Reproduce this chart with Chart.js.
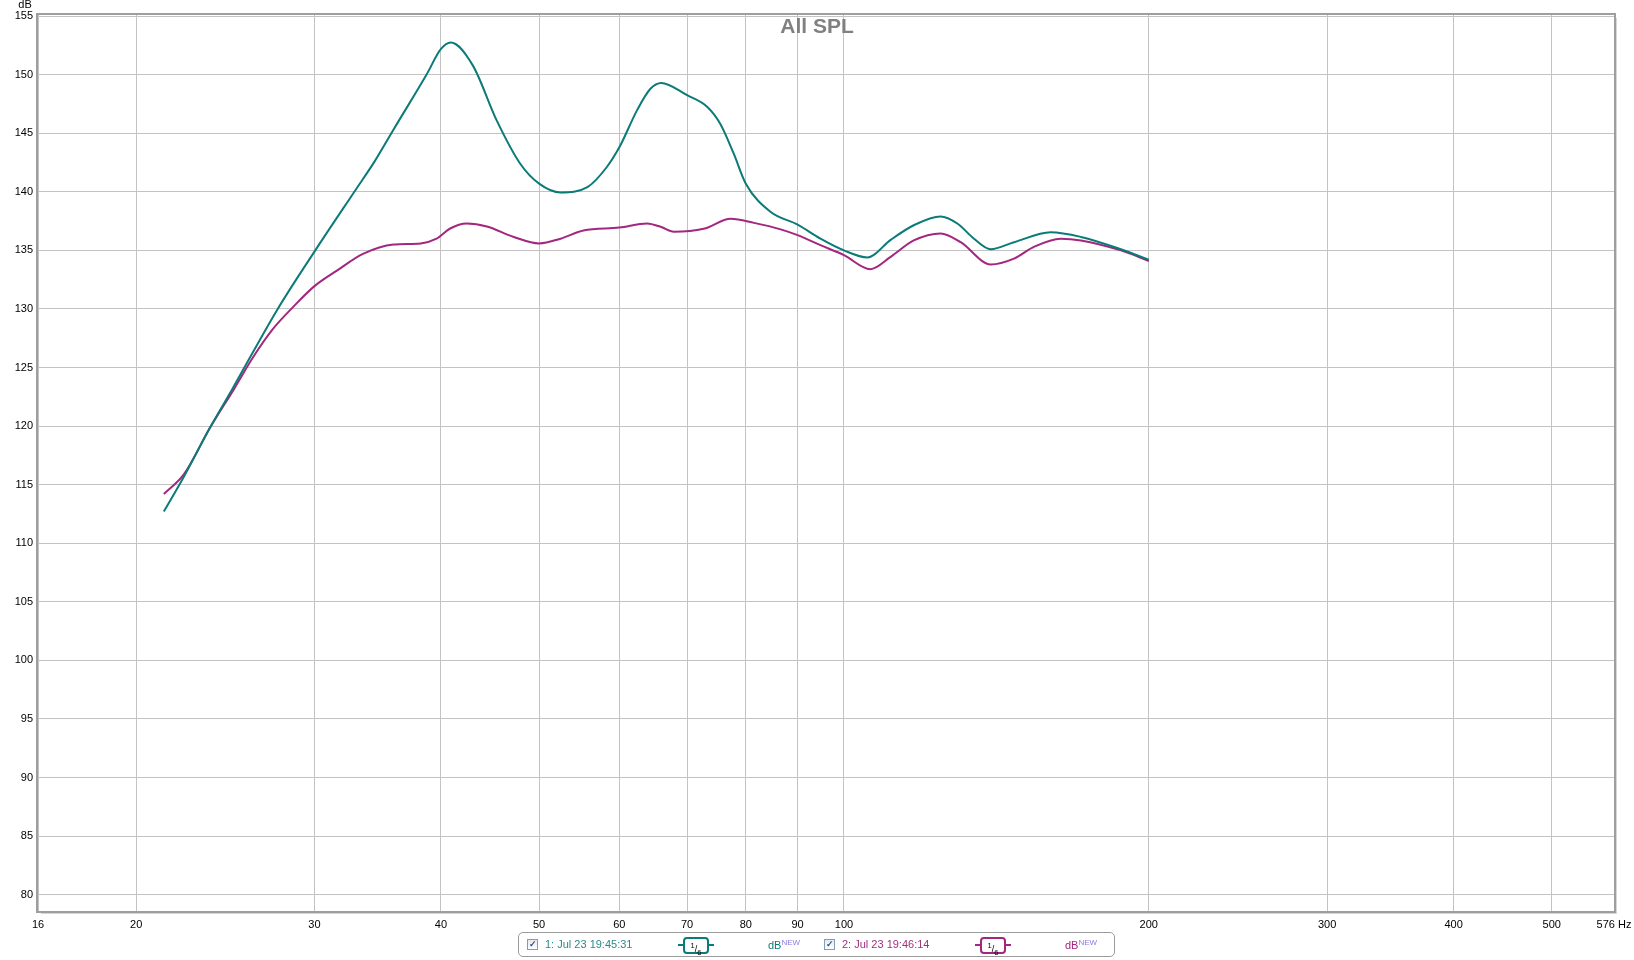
<!DOCTYPE html>
<html>
<head>
<meta charset="utf-8">
<script src="https://cdn.jsdelivr.net/npm/chart.js@4"></script>
<style>
  html, body { margin: 0; padding: 0; background: #fff; }
  #wrap { position: relative; width: 1634px; height: 960px; overflow: hidden; }
  #splChart { position: absolute; left: 0; top: 0; }
  .legend {
    position: absolute; left: 518px; top: 932px; width: 597px; height: 25px;
    border: 1px solid #9a9a9a; border-radius: 5px; box-sizing: border-box;
    font: 11px "Liberation Sans", Arial, sans-serif;
  }
  .legend span { position: absolute; white-space: nowrap; }
  .chk {
    width: 9px; height: 9px; top: 6px; border: 1px solid #7f9db9;
    background: linear-gradient(#e8e8e8, #fff); font-size: 9px; line-height: 9px;
    color: #2a4d9c; text-align: center; font-weight: bold;
  }
  .name { top: 5px; }
  .smooth {
    top: 4px; width: 22px; height: 13px; border: 2px solid; border-radius: 4px;
    font-size: 9px; line-height: 13px; text-align: center; color: #000;
  }
  .dash { top: 11px; height: 2px; width: 5px; }
  .db { top: 5px; }
  .db sup { font-size: 8px; color: #8a7be0; vertical-align: 4px; }
</style>
</head>
<body>
<div id="wrap">
  <canvas id="splChart" width="1634" height="960"></canvas>
  <div class="legend" id="legend"></div>
</div>
<script>
const chartTitle = "All SPL";
const xTicks = [16, 20, 30, 40, 50, 60, 70, 80, 90, 100, 200, 300, 400, 500, 576];
const yTicks = [80, 85, 90, 95, 100, 105, 110, 115, 120, 125, 130, 135, 140, 145, 150, 155];

const seriesNames = ["1: Jul 23 19:45:31", "2: Jul 23 19:46:14"];
const seriesColors = ["#0b7b78", "#a3267f"];
const legendTextColors = ["#2a8a88", "#a0307f"];

const freq1 = [21.3, 22.3, 23.67, 24.9, 27.55, 30, 32.9, 34.4, 35.9, 38.7, 40, 40.9, 43.0, 45.4, 47.9, 50,
  52.5, 55.8, 58.3, 60, 62.5, 64.4, 66.0, 70, 73.3, 75.5, 77.8, 80, 84.6, 90, 94.8, 100, 105.5, 111.2,
  117.2, 124.6, 129.4, 134.4, 139.6, 147.2, 160, 171.4, 187.7, 200];
const spl1 = [112.7, 115.7, 119.9, 123.2, 129.9, 134.9, 140.1, 142.6, 145.3, 150.0, 152.2, 152.75, 150.8, 146.1, 142.4, 140.7,
  139.95, 140.4, 142.1, 143.8, 147.0, 148.8, 149.3, 148.25, 147.25, 145.8, 143.3, 140.7, 138.3, 137.2, 136.0, 135.0, 134.4, 135.9,
  137.15, 137.9, 137.3, 136.0, 135.1, 135.7, 136.55, 136.15, 135.1, 134.2];

const freq2 = [21.3, 22.3, 23.67, 25.0, 26.1, 27.3, 28.6, 30, 31.6, 33.5, 35.9, 38.2, 39.6, 40.8, 42.4, 44.4, 47.2, 50,
  52.5, 55.3, 60, 63.9, 66.0, 67.9, 72.7, 77.3, 81.5, 86.6, 90, 94.8, 100, 106.2, 111.2, 117.2, 124.6,
  130.4, 139.6, 147.2, 154.0, 163.7, 171.4, 187.7, 200];
const spl2 = [114.2, 115.9, 119.9, 123.2, 125.9, 128.3, 130.2, 131.95, 133.3, 134.7, 135.5, 135.6, 136.0, 136.85, 137.3, 137.05, 136.15, 135.6,
  136.0, 136.7, 136.95, 137.3, 137.0, 136.6, 136.85, 137.7, 137.35, 136.8, 136.3, 135.45, 134.6, 133.4, 134.45, 135.85, 136.45,
  135.7, 133.8, 134.3, 135.3, 136.0, 135.85, 135.0, 134.1];

const toPoints = (xs, ys) => xs.map((x, i) => ({ x, y: ys[i] }));

const frame = {
  id: "frame",
  afterDraw(chart) {
    const { ctx, chartArea: a } = chart;
    ctx.save();
    // soft shadow right / bottom
    ctx.strokeStyle = "#d6d6d6";
    ctx.lineWidth = 2;
    ctx.beginPath();
    ctx.moveTo(a.right + 2, a.top + 3);
    ctx.lineTo(a.right + 2, a.bottom + 2);
    ctx.lineTo(a.left + 3, a.bottom + 2);
    ctx.stroke();
    ctx.strokeStyle = "#9e9e9e";
    ctx.lineWidth = 2;
    ctx.strokeRect(a.left - 1, a.top - 1, a.right - a.left + 2, a.bottom - a.top + 2);
    // title
    ctx.fillStyle = "#808080";
    ctx.font = "bold 21px 'Liberation Sans', Arial, sans-serif";
    ctx.textAlign = "center";
    ctx.textBaseline = "alphabetic";
    ctx.fillText(chartTitle, 817, 33);
    // unit
    ctx.fillStyle = "#000";
    ctx.font = "11px 'Liberation Sans', Arial, sans-serif";
    ctx.fillText("dB", 25, 8);
    ctx.restore();
  }
};

new Chart(document.getElementById("splChart"), {
  type: "line",
  data: {
    datasets: [
      { label: seriesNames[0], data: toPoints(freq1, spl1), borderColor: seriesColors[0] },
      { label: seriesNames[1], data: toPoints(freq2, spl2), borderColor: seriesColors[1] },
    ].map((d) => ({ ...d, borderWidth: 2, pointRadius: 0, fill: false, cubicInterpolationMode: "monotone" })),
  },
  options: {
    responsive: false,
    animation: false,
    layout: { padding: { top: 15, right: 20, left: 0, bottom: 0 } },
    plugins: { legend: { display: false }, tooltip: { enabled: false } },
    scales: {
      x: {
        type: "logarithmic",
        min: 16,
        max: 576,
        afterBuildTicks: (s) => { s.ticks = xTicks.map((v) => ({ value: v })); },
        afterFit: (s) => { s.height = 49; s.paddingLeft = 0; s.paddingRight = 0; },
        ticks: {
          autoSkip: false, maxRotation: 0, padding: 7, color: "#000",
          font: { family: "'Liberation Sans', Arial", size: 11 },
          callback: (v) => (v === 576 ? "576 Hz" : String(v)),
        },
        grid: { color: "#c3c3c3", drawTicks: false },
        border: { display: false },
      },
      y: {
        min: 78.6,
        max: 155.1,
        afterBuildTicks: (s) => { s.ticks = yTicks.map((v) => ({ value: v })); },
        afterFit: (s) => { s.width = 38; },
        ticks: {
          padding: 5, color: "#000",
          font: { family: "'Liberation Sans', Arial", size: 11 },
        },
        grid: { color: "#c3c3c3", drawTicks: false },
        border: { display: false },
      },
    },
  },
  plugins: [frame],
});

// legend strip
const legend = document.getElementById("legend");
const offsets = [0, 297];
seriesNames.forEach((name, i) => {
  const o = offsets[i];
  const c = seriesColors[i];
  legend.insertAdjacentHTML("beforeend", `
    <span class="chk" style="left:${8 + o}px">&#10003;</span>
    <span class="name" style="left:${26 + o}px;color:${legendTextColors[i]}">${name}</span>
    <span class="dash" style="left:${159 + o}px;background:${c}"></span>
    <span class="smooth" style="left:${164 + o}px;border-color:${c}"><sup>1</sup>/<sub>6</sub></span>
    <span class="dash" style="left:${190 + o}px;background:${c}"></span>
    <span class="db" style="left:${249 + o}px;color:${c}">dB<sup>NEW</sup></span>
  `);
});
</script>
</body>
</html>
